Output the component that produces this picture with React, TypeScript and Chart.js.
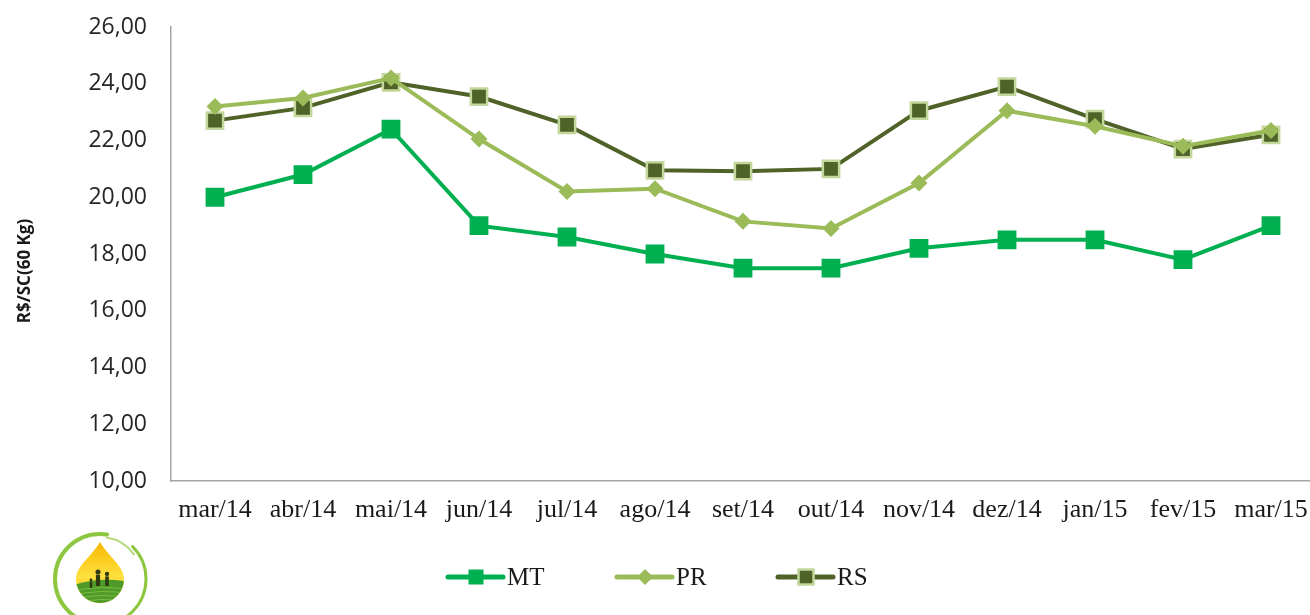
import React, { useEffect, useRef } from "react";
import { Chart, registerables } from "chart.js";

Chart.register(...registerables);

const categories = ["mar/14", "abr/14", "mai/14", "jun/14", "jul/14", "ago/14", "set/14", "out/14", "nov/14", "dez/14", "jan/15", "fev/15", "mar/15"];
const mtValues = [20.0, 20.8, 22.4, 19.0, 18.6, 18.0, 17.5, 17.5, 18.2, 18.5, 18.5, 17.8, 19.0];
const prValues = [23.2, 23.5, 24.2, 22.05, 20.2, 20.3, 19.15, 18.9, 20.5, 23.05, 22.5, 21.8, 22.35];
const rsValues = [22.7, 23.15, 24.05, 23.55, 22.55, 20.95, 20.92, 21.0, 23.05, 23.9, 22.75, 21.7, 22.2];
const seriesNames = ["MT", "PR", "RS"];
const yAxisTitle = "R$/SC(60 Kg)";

const legendPlugin = {
  id: "customLegend",
  afterDraw(chart: any) {
    const ctx = chart.ctx;
    // y axis title
    ctx.save();
    ctx.translate(25, 271);
    ctx.rotate(-Math.PI / 2);
    ctx.fillStyle = "#1a1a1a";
    ctx.font = "bold 17px 'Open Sans', sans-serif";
    ctx.textAlign = "center";
    ctx.textBaseline = "middle";
    ctx.fillText(yAxisTitle, 0, 0);
    ctx.restore();

    const xs = [448, 617, 778];
    const y = 577;
    ctx.save();
    chart.data.datasets.forEach((ds: any, i: number) => {
      const x0 = xs[i];
      ctx.strokeStyle = ds.borderColor;
      ctx.lineWidth = 5;
      ctx.lineCap = "round";
      ctx.beginPath();
      ctx.moveTo(x0, y);
      ctx.lineTo(x0 + 55, y);
      ctx.stroke();
      const cx = x0 + 28;
      ctx.fillStyle = ds.pointBackgroundColor;
      if (ds.pointStyle === "rectRot") {
        ctx.beginPath();
        ctx.moveTo(cx - 8, y);
        ctx.lineTo(cx, y - 8);
        ctx.lineTo(cx + 8, y);
        ctx.lineTo(cx, y + 8);
        ctx.closePath();
        ctx.fill();
      } else {
        const s = 15;
        ctx.fillRect(cx - s / 2, y - s / 2, s, s);
        if (ds.pointBorderWidth > 0) {
          ctx.strokeStyle = ds.pointBorderColor;
          ctx.lineWidth = 2.5;
          ctx.lineCap = "butt";
          ctx.strokeRect(cx - s / 2, y - s / 2, s, s);
        }
      }
      ctx.fillStyle = "#1a1a1a";
      ctx.font = "25px 'Liberation Serif', serif";
      ctx.textBaseline = "middle";
      ctx.textAlign = "left";
      ctx.fillText(ds.label, x0 + 59, y + 1);
    });
    ctx.restore();

    // logo
    const lx = 100, ly = 579;
    ctx.save();
    ctx.lineCap = "round";
    ctx.strokeStyle = "#8DC63F";
    ctx.lineWidth = 4;
    ctx.beginPath();
    ctx.arc(lx, ly, 45, Math.PI * 0.5, Math.PI * 1.55);
    ctx.stroke();
    ctx.lineWidth = 3;
    ctx.beginPath();
    ctx.arc(lx, ly, 46, Math.PI * 1.75, Math.PI * 2.4);
    ctx.stroke();
    ctx.strokeStyle = "#B5D77A";
    ctx.lineWidth = 2;
    ctx.beginPath();
    ctx.arc(lx, ly, 42, Math.PI * 1.55, Math.PI * 1.8);
    ctx.stroke();
    // drop
    ctx.beginPath();
    ctx.moveTo(lx, 542);
    ctx.bezierCurveTo(lx + 8, 556, lx + 24, 566, lx + 24, 579);
    ctx.arc(lx, 579, 24, 0, Math.PI, false);
    ctx.bezierCurveTo(lx - 24, 566, lx - 8, 556, lx, 542);
    ctx.closePath();
    const g = ctx.createLinearGradient(0, 542, 0, 600);
    g.addColorStop(0, "#F6B800");
    g.addColorStop(0.6, "#FFE040");
    g.addColorStop(1, "#F2C200");
    ctx.fillStyle = g;
    ctx.fill();
    ctx.clip();
    ctx.fillStyle = "#4E9A2A";
    ctx.beginPath();
    ctx.moveTo(lx - 30, 586);
    ctx.quadraticCurveTo(lx, 576, lx + 30, 582);
    ctx.lineTo(lx + 30, 610);
    ctx.lineTo(lx - 30, 610);
    ctx.closePath();
    ctx.fill();
    ctx.strokeStyle = "#7DBB3C";
    ctx.lineWidth = 1;
    for (let k = 0; k < 4; k++) {
      ctx.beginPath();
      ctx.moveTo(lx - 30, 592 + k * 4);
      ctx.quadraticCurveTo(lx, 584 + k * 4, lx + 30, 590 + k * 4);
      ctx.stroke();
    }
    ctx.fillStyle = "#2F3A12";
    const fig = (fx: number, fy: number, h: number) => {
      ctx.beginPath();
      ctx.arc(fx, fy - h, h * 0.18, 0, Math.PI * 2);
      ctx.fill();
      ctx.fillRect(fx - h * 0.15, fy - h * 0.8, h * 0.3, h * 0.8);
    };
    fig(lx - 2, 586, 14);
    fig(lx + 7, 586, 12);
    fig(lx - 9, 588, 8);
    ctx.restore();
  },
};

export default function App() {
  const ref = useRef<HTMLCanvasElement | null>(null);
  useEffect(() => {
    if (!ref.current) return;
    const chart = new Chart(ref.current, {
      type: "line",
      data: {
        labels: categories,
        datasets: [
          {
            label: seriesNames[0],
            data: mtValues,
            borderColor: "#00B050",
            backgroundColor: "#00B050",
            pointBackgroundColor: "#00B050",
            pointBorderColor: "#00B050",
            pointBorderWidth: 0,
            pointStyle: "rect",
            pointRadius: 13.3,
            borderWidth: 4,
            tension: 0,
          },
          {
            label: seriesNames[1],
            data: prValues,
            borderColor: "#9BBB59",
            backgroundColor: "#9BBB59",
            pointBackgroundColor: "#9BBB59",
            pointBorderColor: "#9BBB59",
            pointBorderWidth: 0,
            pointStyle: "rectRot",
            pointRadius: 8.5,
            borderWidth: 4,
            tension: 0,
          },
          {
            label: seriesNames[2],
            data: rsValues,
            borderColor: "#4F6228",
            backgroundColor: "#4F6228",
            pointBackgroundColor: "#4F6228",
            pointBorderColor: "#C3D69B",
            pointBorderWidth: 2.5,
            pointStyle: "rect",
            pointRadius: 11.5,
            borderWidth: 4,
            tension: 0,
          },
        ],
      } as any,
      options: {
        animation: false,
        responsive: false,
        events: [],
        layout: { autoPadding: false, padding: { top: 27, right: 1, bottom: 0, left: 0 } },
        plugins: {
          legend: { display: false },
          tooltip: { enabled: false },
        },
        scales: {
          x: {
            offset: true,
            grid: { display: false, drawTicks: false, offset: true },
            border: { display: true, color: "#A6A6A6", width: 1.5 },
            ticks: {
              color: "#1a1a1a",
              font: { family: "'Liberation Serif', serif", size: 26 },
              padding: 14,
              maxRotation: 0,
              autoSkip: false,
            },
            afterFit(scale: any) {
              scale.height = 134;
              scale.paddingLeft = 0;
              scale.paddingRight = 0;
              scale.paddingTop = 0;
              scale.paddingBottom = 0;
            },
          },
          y: {
            min: 10,
            max: 26,
            grid: { display: false, drawTicks: false },
            border: { display: true, color: "#A6A6A6", width: 1.5 },
            ticks: {
              stepSize: 2,
              color: "#262626",
              font: { family: "'Open Sans', sans-serif", size: 23 },
              padding: 24,
              callback: (v: any) => Number(v).toFixed(2).replace(".", ","),
            },
            afterFit(scale: any) {
              scale.width = 171;
              scale.paddingTop = 0;
              scale.paddingBottom = 0;
              scale.paddingLeft = 0;
              scale.paddingRight = 0;
            },
          },
        },
      } as any,
      plugins: [legendPlugin],
    });
    return () => chart.destroy();
  }, []);
  return (
    <div style={{ position: "fixed", left: 0, top: 0, width: 1310, height: 615, overflow: "hidden", background: "#fff" }}>
      <canvas ref={ref} width={1316} height={615} style={{ display: "block", width: 1316, height: 615 }} />
    </div>
  );
}
